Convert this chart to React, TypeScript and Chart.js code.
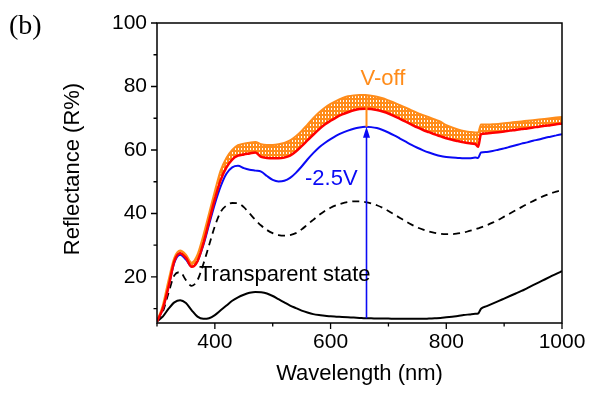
import React, { useEffect, useRef } from 'react';
import { Chart, registerables } from 'chart.js';

Chart.register(...registerables);

// ---------- data ----------
const wavelengths = [
  300, 310, 320, 330, 340, 350, 360, 370, 380, 390,
  400, 410, 420, 430, 440, 450, 460, 470, 480, 490,
  500, 510, 520, 530, 540, 550, 560, 570, 580, 590,
  600, 610, 620, 630, 640, 650, 660, 670, 680, 690,
  700, 710, 720, 730, 740, 750, 760, 770, 780, 790,
  800, 810, 820, 830, 840, 850, 855, 860, 870, 880,
  890, 900, 910, 920, 930, 940, 950, 960, 970, 980,
  990, 1000,
];

const transparentState = [
  6, 7.5, 10, 12, 12.7, 11.8, 9.5, 7.5, 6.8, 7,
  8, 9.5, 11, 12.5, 13.6, 14.4, 15, 15.3, 15.2, 14.8,
  14, 13, 12, 11, 10.2, 9.4, 8.8, 8.3, 8, 7.8,
  7.6, 7.5, 7.4, 7.3, 7.2, 7.1, 7.0, 7.0, 6.9, 6.9,
  6.9, 6.8, 6.8, 6.8, 6.8, 6.8, 6.8, 6.9, 7.0, 7.1,
  7.3, 7.5, 7.7, 8.0, 8.2, 8.4, 8.5, 10.0, 10.8, 11.6,
  12.4, 13.2, 14.0, 14.8, 15.6, 16.5, 17.4, 18.3, 19.2, 20.1,
  21.0, 21.8,
];

const dashedCurve = [
  6, 9, 15, 20.5, 21.5, 19, 17.2, 19, 24, 30,
  36, 40.5, 42.5, 43.3, 43.2, 42, 40, 38, 36.2, 34.8,
  33.8, 33.2, 33, 33.2, 33.8, 35, 36.5, 38, 39.5, 40.8,
  41.8, 42.6, 43.2, 43.6, 43.8, 43.8, 43.6, 43.2, 42.6, 41.8,
  40.8, 39.7, 38.6, 37.5, 36.5, 35.6, 34.9, 34.3, 33.9, 33.6,
  33.5, 33.5, 33.7, 34, 34.5, 35, 35.3, 35.6, 36.3, 37.1,
  38, 39, 40, 41, 42, 43, 43.9, 44.8, 45.6, 46.3,
  46.9, 47.4,
];

const minus25V = [
  6, 10, 17, 24.5, 27, 25.5, 23.3, 25, 30, 36.5,
  43, 48.5, 52.5, 54.5, 55, 54.3, 53.8, 53.5, 53.2, 51.8,
  50.6, 50.1, 50.3, 51.2, 52.8, 54.8, 57, 59, 60.8, 62.2,
  63.4, 64.5, 65.4, 66.1, 66.7, 67.1, 67.3, 67.2, 66.9, 66.3,
  65.5, 64.6, 63.6, 62.6, 61.6, 60.7, 59.9, 59.2, 58.6, 58.1,
  57.8, 57.6, 57.5, 57.4, 57.4, 57.6, 57.5, 59.2, 59.4, 59.7,
  60.1, 60.5, 61, 61.5, 62, 62.4, 62.9, 63.3, 63.8, 64.2,
  64.6, 65,
];

const redCurve = [
  6, 10, 17, 25, 27.5, 26, 23.2, 25, 30.5, 37.5,
  44.5, 50.5, 54.5, 57, 58.2, 58.6, 58.9, 59.2, 57.8, 57.5,
  57.4, 57.4, 57.6, 58.2, 59.5, 61.2, 63, 64.8, 66.5, 68,
  69.2, 70.3, 71.2, 71.9, 72.5, 72.9, 73.0, 72.9, 72.6, 72.1,
  71.5, 70.7, 69.8, 68.9, 68.0, 67.1, 66.3, 65.6, 64.9, 64.3,
  63.7, 63.2, 62.8, 62.4, 62.1, 61.9, 61.0, 65.0, 65.2, 65.4,
  65.6, 65.8, 66.1, 66.3, 66.6, 66.8, 67.1, 67.3, 67.6, 67.8,
  68.1, 68.3,
];

const vOff = [
  6, 11, 19, 26, 28.3, 27, 24.5, 27, 33, 40,
  47, 53.5, 57.5, 60, 61.5, 62, 62.3, 62.5, 61.8, 61.6,
  61.6, 61.8, 62.2, 63, 64.3, 66, 68, 70, 71.8, 73.3,
  74.5, 75.5, 76.3, 76.9, 77.2, 77.3, 77.3, 77.1, 76.8, 76.3,
  75.6, 74.9, 74.1, 73.3, 72.5, 71.7, 71.0, 70.3, 69.6, 68.9,
  67.8, 67.1, 66.5, 66.0, 65.7, 65.5, 65.5, 68.0, 68.0, 68.1,
  68.2, 68.4, 68.6, 68.8, 69.0, 69.2, 69.4, 69.6, 69.8, 70.0,
  70.2, 70.4,
];

const xTickLabels = [400, 600, 800, 1000];
const xMinorTicks = [300, 500, 700, 900];
const yTickLabels = [20, 40, 60, 80, 100];
const yMinorTicks = [10, 30, 50, 70, 90];

const arrowX = 662;
const arrowFrom = 7;
const arrowTo = 67.3;
const vOffPeak = 77.2;

// ---------- style ----------
const ORANGE = '#FF8C1A';
const RED = '#FF0000';
const BLUE = '#0A0AF5';
const FONT = "'Liberation Sans', Arial, sans-serif";

const toXY = (ys: number[]) => wavelengths.map((w, i) => ({ x: w, y: ys[i] }));

const decorPlugin = {
  id: 'decor',
  afterDatasetsDraw(chart: any) {
    const { ctx, scales } = chart;
    const x = scales.x;
    const y = scales.y;
    ctx.save();
    const ax = Math.round(x.getPixelForValue(arrowX)) + 0.5;
    const yb = y.getPixelForValue(arrowFrom);
    const yt = y.getPixelForValue(arrowTo);
    const yo = y.getPixelForValue(vOffPeak);
    ctx.strokeStyle = ORANGE;
    ctx.lineWidth = 2;
    ctx.beginPath();
    ctx.moveTo(ax, yt);
    ctx.lineTo(ax, yo);
    ctx.stroke();
    ctx.strokeStyle = BLUE;
    ctx.lineWidth = 1.6;
    ctx.beginPath();
    ctx.moveTo(ax, yb);
    ctx.lineTo(ax, yt + 8);
    ctx.stroke();
    ctx.fillStyle = BLUE;
    ctx.beginPath();
    ctx.moveTo(ax, yt);
    ctx.lineTo(ax - 3.5, yt + 11);
    ctx.lineTo(ax + 3.5, yt + 11);
    ctx.closePath();
    ctx.fill();
    ctx.restore();
  },
  afterDraw(chart: any) {
    const { ctx, chartArea: a, scales } = chart;
    const x = scales.x;
    const y = scales.y;
    ctx.save();
    ctx.strokeStyle = '#000';
    ctx.lineWidth = 1.5;
    ctx.strokeRect(a.left, a.top, a.right - a.left, a.bottom - a.top);
    ctx.lineWidth = 1.3;
    ctx.beginPath();
    xTickLabels.forEach((v) => {
      const px = x.getPixelForValue(v);
      ctx.moveTo(px, a.bottom);
      ctx.lineTo(px, a.bottom + 6);
    });
    xMinorTicks.forEach((v) => {
      const px = x.getPixelForValue(v);
      ctx.moveTo(px, a.bottom);
      ctx.lineTo(px, a.bottom + 3.5);
    });
    yTickLabels.forEach((v) => {
      const py = y.getPixelForValue(v);
      ctx.moveTo(a.left, py);
      ctx.lineTo(a.left - 6, py);
    });
    yMinorTicks.forEach((v) => {
      const py = y.getPixelForValue(v);
      ctx.moveTo(a.left, py);
      ctx.lineTo(a.left - 3.5, py);
    });
    ctx.stroke();

    ctx.fillStyle = '#000';
    ctx.font = `22px ${FONT}`;
    ctx.textAlign = 'center';
    ctx.textBaseline = 'middle';
    ctx.fillText('Wavelength (nm)', (a.left + a.right) / 2, 374);
    ctx.save();
    ctx.translate(73, 169);
    ctx.rotate(-Math.PI / 2);
    ctx.fillText('Reflectance (R%)', 0, 0);
    ctx.restore();

    ctx.textAlign = 'left';
    ctx.textBaseline = 'alphabetic';
    ctx.font = `28px 'Liberation Serif', 'Times New Roman', serif`;
    ctx.fillText('(b)', 9, 34);

    ctx.font = `22px ${FONT}`;
    ctx.fillStyle = ORANGE;
    ctx.textAlign = 'center';
    ctx.fillText('V-off', 383, 85);
    ctx.fillStyle = BLUE;
    ctx.textAlign = 'left';
    ctx.fillText('-2.5V', 305, 185);
    ctx.fillStyle = '#000';
    ctx.fillText('Transparent state', 199, 281);
    ctx.restore();
  },
};

export default function App() {
  const ref = useRef<HTMLCanvasElement | null>(null);

  useEffect(() => {
    const canvas = ref.current;
    if (!canvas) return;
    const ctx = canvas.getContext('2d');
    if (!ctx) return;

    const pc = document.createElement('canvas');
    pc.width = 3;
    pc.height = 4;
    const pctx = pc.getContext('2d')!;
    pctx.fillStyle = ORANGE;
    pctx.fillRect(0, 0, 3, 4);
    pctx.fillStyle = '#FFFFFF';
    pctx.fillRect(1, 0, 1, 2);
    const pattern = ctx.createPattern(pc, 'repeat');

    const tickFont = { family: FONT, size: 21 };

    const chart = new Chart(canvas, {
      type: 'line',
      data: {
        datasets: [
          {
            label: 'red',
            data: toXY(redCurve),
            borderColor: RED,
            borderWidth: 2.5,
            fill: false,
          },
          {
            label: 'V-off',
            data: toXY(vOff),
            borderColor: ORANGE,
            borderWidth: 2,
            backgroundColor: pattern as any,
            fill: 0,
          },
          {
            label: '-2.5V',
            data: toXY(minus25V),
            borderColor: BLUE,
            borderWidth: 2,
            fill: false,
          },
          {
            label: 'dashed',
            data: toXY(dashedCurve),
            borderColor: '#000',
            borderWidth: 1.8,
            borderDash: [7, 5],
            fill: false,
          },
          {
            label: 'Transparent state',
            data: toXY(transparentState),
            borderColor: '#000',
            borderWidth: 2,
            fill: false,
          },
        ],
      },
      options: {
        responsive: false,
        animation: false,
        layout: { padding: { left: 0, right: 29, top: 23, bottom: 0 } },
        plugins: {
          legend: { display: false },
          tooltip: { enabled: false },
        },
        elements: {
          point: { radius: 0 },
          line: { cubicInterpolationMode: 'monotone' },
        },
        scales: {
          x: {
            type: 'linear',
            min: 300,
            max: 1000,
            afterFit: (s: any) => {
              s.height = 70;
            },
            afterBuildTicks: (s: any) => {
              s.ticks = xTickLabels.map((v) => ({ value: v }));
            },
            grid: { drawOnChartArea: false, color: 'rgba(0,0,0,0)', tickLength: 6 },
            border: { display: false },
            ticks: {
              font: tickFont,
              color: '#000',
              padding: 1,
              maxRotation: 0,
              autoSkip: false,
              callback: (v: any) => String(v),
            },
          },
          y: {
            type: 'linear',
            min: 5.5,
            max: 100,
            afterFit: (s: any) => {
              s.width = 157;
            },
            afterBuildTicks: (s: any) => {
              s.ticks = yTickLabels.map((v) => ({ value: v }));
            },
            grid: { drawOnChartArea: false, color: 'rgba(0,0,0,0)', tickLength: 6 },
            border: { display: false },
            ticks: {
              font: tickFont,
              color: '#000',
              padding: 4,
              autoSkip: false,
              callback: (v: any) => String(v),
            },
          },
        },
      },
      plugins: [decorPlugin],
    });

    return () => chart.destroy();
  }, []);

  return (
    <div style={{ position: 'absolute', left: 0, top: 0, width: 591, height: 393, background: '#fff' }}>
      <canvas ref={ref} width={591} height={393} style={{ display: 'block' }} />
    </div>
  );
}
